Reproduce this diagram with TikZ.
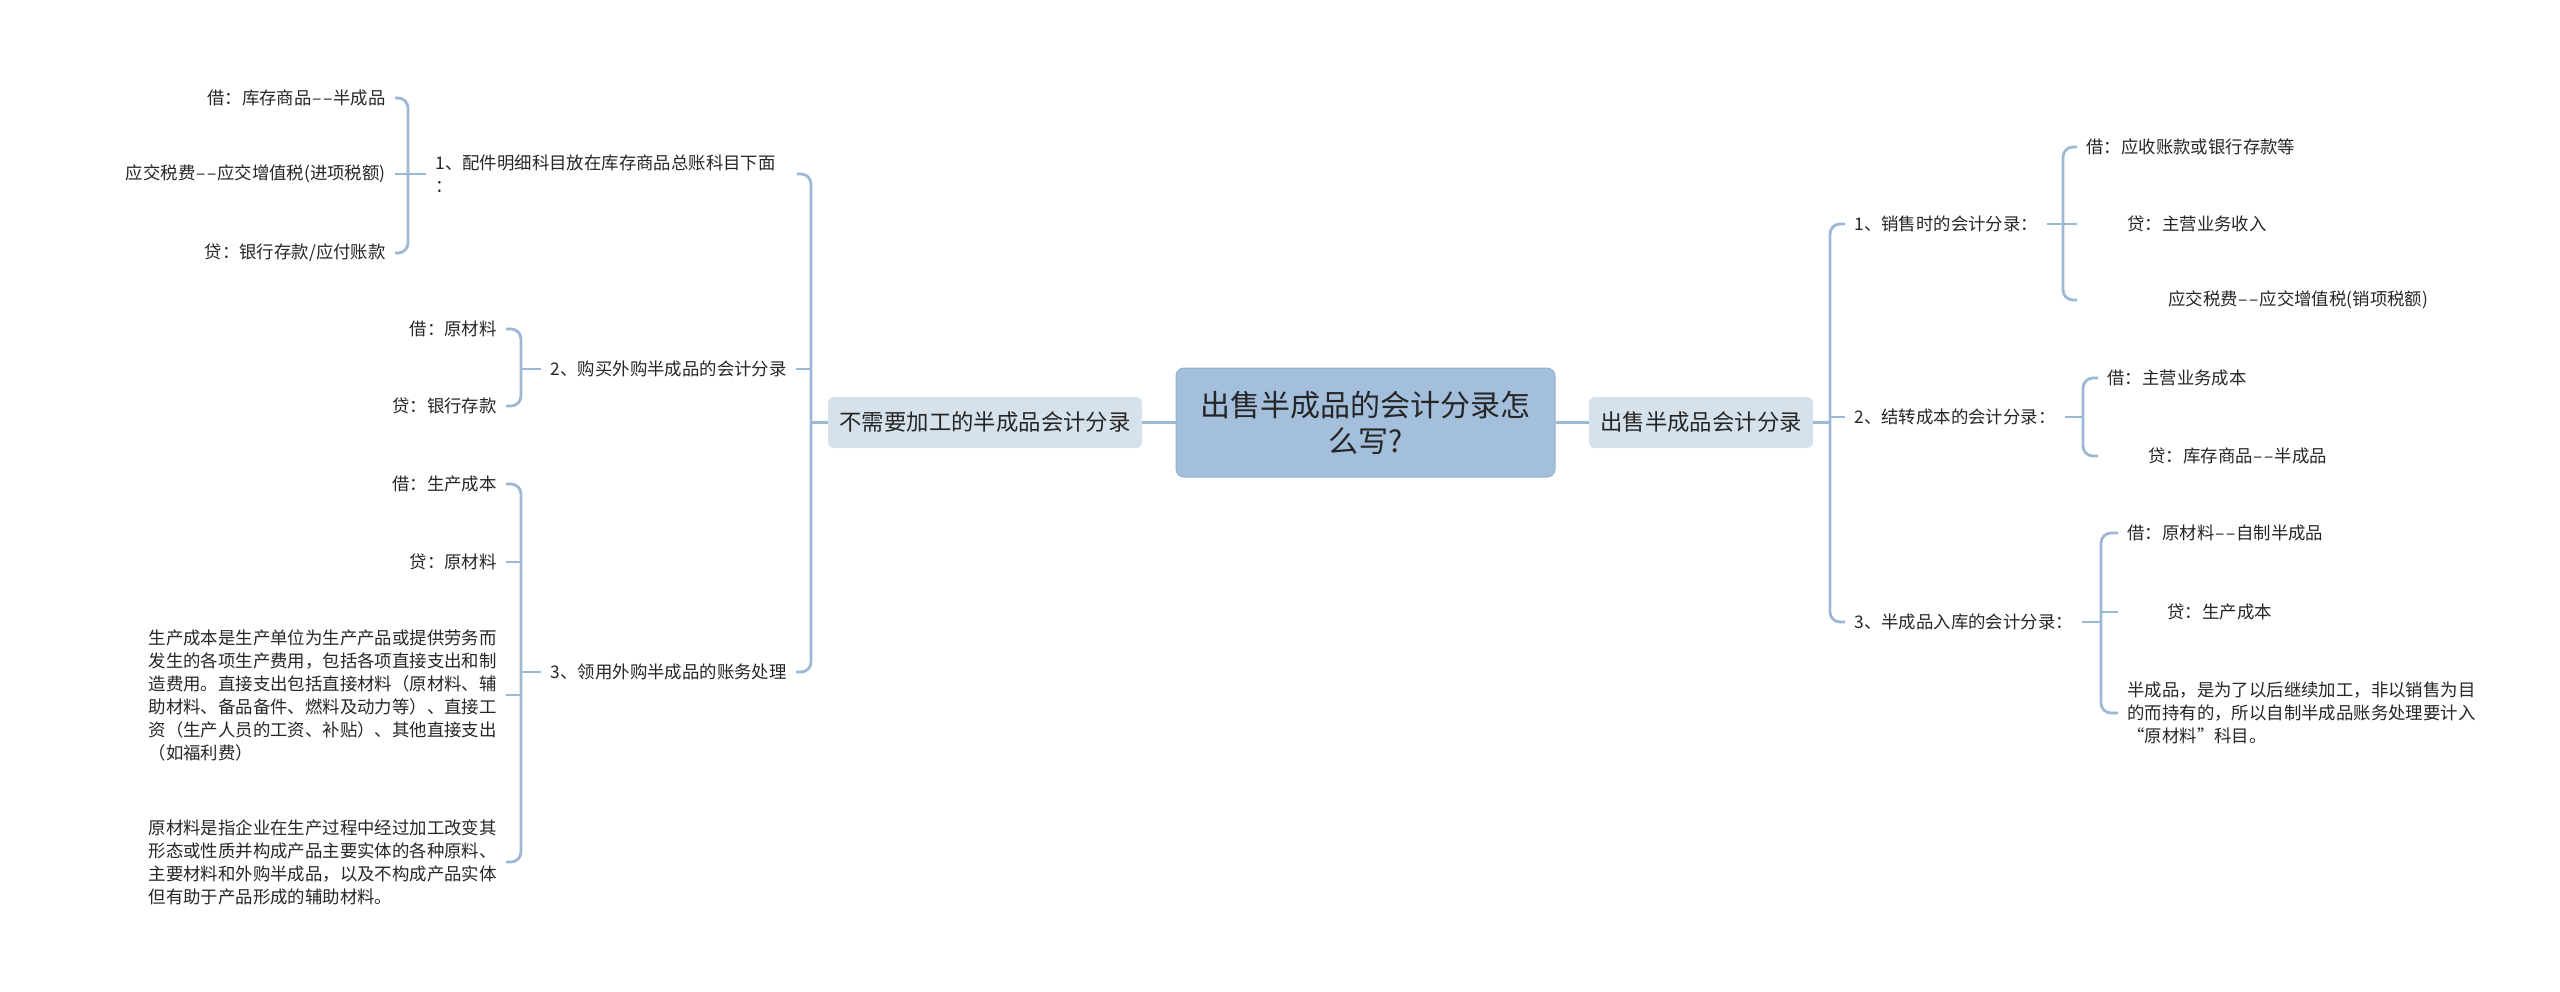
\documentclass[tikz,border=0pt]{standalone}
\usepackage{fontspec}
\setmainfont{Noto Sans CJK SC}
\usepackage{tikz}
\usetikzlibrary{positioning}
\definecolor{mapLine}{HTML}{9CB8D5}
\definecolor{mapRoot}{HTML}{A3BFDB}
\definecolor{mapMain}{HTML}{D6E2EB}
\definecolor{mapText}{HTML}{262626}
\newcommand{\ddash}{\kern.05em–\kern.08em–\kern.05em}

\begin{document}
\begin{tikzpicture}[
    x=0.5pt, y=-0.5pt,
    rootbox/.style={
        draw=mapRoot!92!black, fill=mapRoot, rounded corners=4pt,
        font=\fontsize{15}{18}\selectfont, text=mapText,
        minimum width=189.5pt, minimum height=54.5pt,
        inner sep=0pt, line width=0.5pt, align=center
    },
    mainbox/.style={
        fill=mapMain, rounded corners=3pt,
        font=\fontsize{11.2}{13}\selectfont, text=mapText,
        minimum height=25.5pt, inner xsep=5.5pt, align=center
    },
    branch/.style={
        font=\fontsize{8.7}{11.5}\selectfont, text=mapText,
        inner xsep=4.5pt, inner ysep=1pt, align=left
    },
    leaf/.style={branch},
    link/.style={draw=mapLine, line width=1.4pt, rounded corners=5pt},
]
\useasboundingbox (0, 0) rectangle (2560, 991);

%% =================================================================
%% Root and the two main topics
%% =================================================================
\node[rootbox] (root) at (1365.5, 422.5)
    {出售半成品的会计分录怎\\么写?};

\node[mainbox, minimum width=157pt] (mainL) at (985, 422.5)
    {不需要加工的半成品会计分录};
\node[mainbox, minimum width=112pt] (mainR) at (1701, 422.5)
    {出售半成品会计分录};

\draw[link] (root.west) -- (mainL.east);
\draw[link] (root.east) -- (mainR.west);

%% =================================================================
%% Left side: branches
%% =================================================================
\coordinate (jL) at (811, 422.5);

\node[branch, anchor=west, text width=176pt] (l1) at (426, 174)
    {1、配件明细科目放在库存商品总账科目下面\\：};
\node[branch, anchor=east] (l2) at (796, 369)
    {2、购买外购半成品的会计分录};
\node[branch, anchor=east] (l3) at (796, 672)
    {3、领用外购半成品的账务处理};

\draw[link] (mainL.west) -- (jL);
\draw[link] (l1.east) -| (jL) |- (l3.east);
\draw[link] (l2.east) -- (l2.east -| jL);

%% Leaves of branch 1
\coordinate (ja) at (408, 174);
\node[leaf, anchor=east] (a1) at (395, 98) {借：库存商品\ddash 半成品};
\node[leaf, anchor=east] (a2) at (395, 174) {应交税费\ddash 应交增值税(进项税额)};
\node[leaf, anchor=east] (a3) at (395, 253) {贷：银行存款/应付账款};

\draw[link] (a1.east) -| (ja) |- (a3.east);
\draw[link] (l1.west) -- (a2.east);

%% Leaves of branch 2
\coordinate (jb) at (521, 369);
\node[leaf, anchor=east] (b1) at (506, 329) {借：原材料};
\node[leaf, anchor=east] (b2) at (506, 406) {贷：银行存款};

\draw[link] (b1.east) -| (jb) |- (b2.east);
\draw[link] (l2.west) -- (jb);

%% Leaves of branch 3
\coordinate (jc) at (521, 672);
\node[leaf, anchor=east] (c1) at (506, 484) {借：生产成本};
\node[leaf, anchor=east] (c2) at (506, 562) {贷：原材料};
\node[leaf, anchor=east] (c3) at (506, 695)
    {生产成本是生产单位为生产产品或提供劳务而\\
     发生的各项生产费用，包括各项直接支出和制\\
     造费用。直接支出包括直接材料（原材料、辅\\
     助材料、备品备件、燃料及动力等）、直接工\\
     资（生产人员的工资、补贴）、其他直接支出\\
     （如福利费）};
\node[leaf, anchor=east] (c4) at (506, 862)
    {原材料是指企业在生产过程中经过加工改变其\\
     形态或性质并构成产品主要实体的各种原料、\\
     主要材料和外购半成品，以及不构成产品实体\\
     但有助于产品形成的辅助材料。};

\draw[link] (c1.east) -| (jc) |- (c4.east);
\draw[link] (l3.west) -- (jc);
\draw[link] (c2.east) -- (c2.east -| jc);
\draw[link] (c3.east) -- (c3.east -| jc);

%% =================================================================
%% Right side: branches
%% =================================================================
\coordinate (jR) at (1830, 422.5);

\node[branch, anchor=west] (r1) at (1845, 224) {1、销售时的会计分录：};
\node[branch, anchor=west] (r2) at (1845, 417) {2、结转成本的会计分录：};
\node[branch, anchor=west] (r3) at (1845, 622) {3、半成品入库的会计分录：};

\draw[link] (mainR.east) -- (jR);
\draw[link] (r1.west) -| (jR) |- (r3.west);
\draw[link] (r2.west) -- (r2.west -| jR);

%% Leaves of branch 1
\coordinate (jd) at (2063, 224);
\node[leaf, anchor=west] (d1) at (2077, 147) {借：应收账款或银行存款等};
\node[leaf, anchor=west] (d2) at (2077, 224) {\hspace*{20.5pt}贷：主营业务收入};
\node[leaf, anchor=west] (d3) at (2077, 300) {\hspace*{41pt}应交税费\ddash 应交增值税(销项税额)};

\draw[link] (d1.west) -| (jd) |- (d3.west);
\draw[link] (r1.east) -- (d2.west);

%% Leaves of branch 2
\coordinate (je) at (2083, 417);
\node[leaf, anchor=west] (e1) at (2098, 378) {借：主营业务成本};
\node[leaf, anchor=west] (e2) at (2098, 456) {\hspace*{20.5pt}贷：库存商品\ddash 半成品};

\draw[link] (e1.west) -| (je) |- (e2.west);
\draw[link] (r2.east) -- (je);

%% Leaves of branch 3
\coordinate (jf) at (2101, 622);
\node[leaf, anchor=west] (f1) at (2118, 533) {借：原材料\ddash 自制半成品};
\node[leaf, anchor=west] (f2) at (2118, 612) {\hspace*{20pt}贷：生产成本};
\node[leaf, anchor=west] (f3) at (2118, 713)
    {半成品，是为了以后继续加工，非以销售为目\\
     的而持有的，所以自制半成品账务处理要计入\\
     “原材料”科目。};

\draw[link] (f1.west) -| (jf) |- (f3.west);
\draw[link] (r3.east) -- (jf);
\draw[link] (f2.west) -- (f2.west -| jf);

\end{tikzpicture}
\end{document}
